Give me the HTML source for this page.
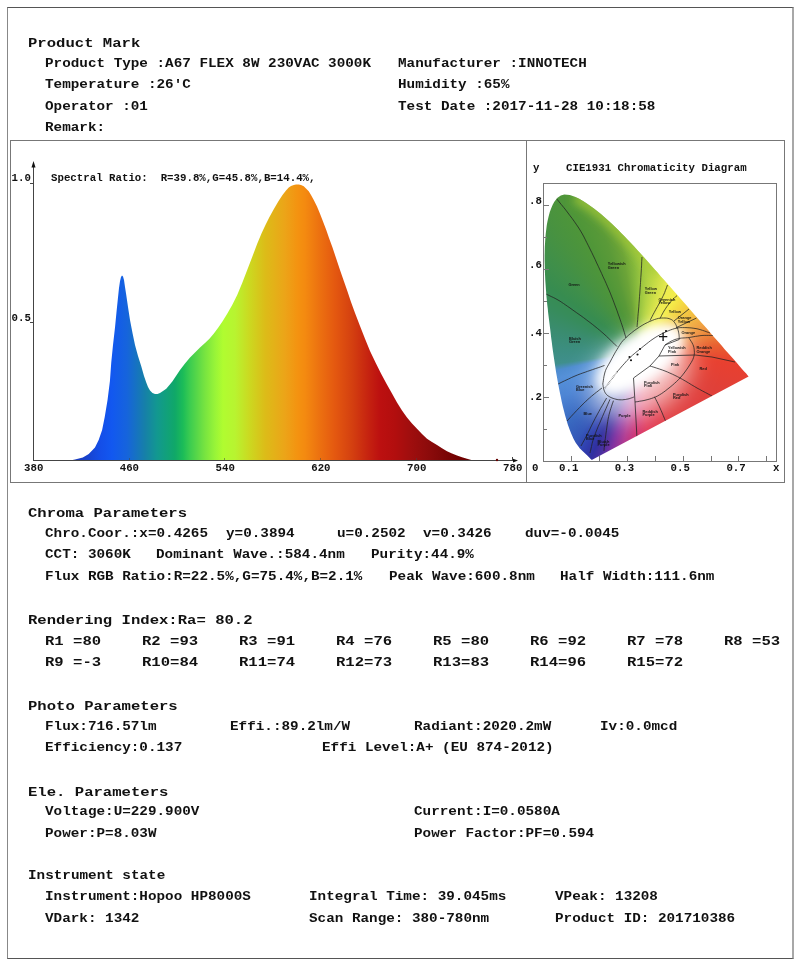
<!DOCTYPE html>
<html><head><meta charset="utf-8"><title>Spectral Test Report</title>
<style>
html,body{margin:0;padding:0;background:#fff;}
body{width:800px;height:966px;position:relative;overflow:hidden;font-family:"Liberation Mono",monospace;font-weight:bold;color:#111;}
.t{position:absolute;white-space:pre;line-height:1;margin:0;transform:scaleY(0.83);transform-origin:0 76.66%;}
.h{font-size:15.6px;}
.b{font-size:14.3px;}
.s{font-size:10.75px;transform:scaleY(0.93);}
#frame{position:absolute;left:7px;top:7px;width:787px;height:952px;box-sizing:border-box;border-style:solid;border-width:1px 2px 1px 1px;border-color:#555 #a8a8a8 #555 #888;}
#chart{position:absolute;left:10px;top:140px;width:775px;height:343px;box-sizing:border-box;border:1px solid #777;}
#divider{position:absolute;left:526px;top:140px;width:1px;height:343px;background:#777;}
svg{position:absolute;left:0;top:0;}
</style></head><body>
<div id="frame"></div>
<div id="chart"></div>
<div id="divider"></div>

<div class="t h" style="left:28.0px;top:35.7px">Product Mark</div>
<div class="t h" style="left:28.0px;top:505.7px">Chroma Parameters</div>
<div class="t h" style="left:28.0px;top:612.7px">Rendering Index:Ra= 80.2</div>
<div class="t h" style="left:28.0px;top:698.7px">Photo Parameters</div>
<div class="t h" style="left:28.0px;top:784.7px">Ele. Parameters</div>
<div class="t h" style="left:45.0px;top:633.7px">R1 =80</div>
<div class="t h" style="left:142.0px;top:633.7px">R2 =93</div>
<div class="t h" style="left:239.0px;top:633.7px">R3 =91</div>
<div class="t h" style="left:336.0px;top:633.7px">R4 =76</div>
<div class="t h" style="left:433.0px;top:633.7px">R5 =80</div>
<div class="t h" style="left:530.0px;top:633.7px">R6 =92</div>
<div class="t h" style="left:627.0px;top:633.7px">R7 =78</div>
<div class="t h" style="left:724.0px;top:633.7px">R8 =53</div>
<div class="t h" style="left:45.0px;top:655.2px">R9 =-3</div>
<div class="t h" style="left:142.0px;top:655.2px">R10=84</div>
<div class="t h" style="left:239.0px;top:655.2px">R11=74</div>
<div class="t h" style="left:336.0px;top:655.2px">R12=73</div>
<div class="t h" style="left:433.0px;top:655.2px">R13=83</div>
<div class="t h" style="left:530.0px;top:655.2px">R14=96</div>
<div class="t h" style="left:627.0px;top:655.2px">R15=72</div>
<div class="t b" style="left:45.0px;top:55.7px">Product Type :A67 FLEX 8W 230VAC 3000K</div>
<div class="t b" style="left:398.0px;top:55.7px">Manufacturer :INNOTECH</div>
<div class="t b" style="left:45.0px;top:77.2px">Temperature :26'C</div>
<div class="t b" style="left:398.0px;top:77.2px">Humidity :65%</div>
<div class="t b" style="left:45.0px;top:98.7px">Operator :01</div>
<div class="t b" style="left:398.0px;top:98.7px">Test Date :2017-11-28 10:18:58</div>
<div class="t b" style="left:45.0px;top:120.2px">Remark:</div>
<div class="t b" style="left:45.0px;top:525.7px">Chro.Coor.:x=0.4265</div>
<div class="t b" style="left:226.0px;top:525.7px">y=0.3894</div>
<div class="t b" style="left:337.0px;top:525.7px">u=0.2502</div>
<div class="t b" style="left:423.0px;top:525.7px">v=0.3426</div>
<div class="t b" style="left:525.0px;top:525.7px">duv=-0.0045</div>
<div class="t b" style="left:45.0px;top:547.2px">CCT: 3060K</div>
<div class="t b" style="left:156.0px;top:547.2px">Dominant Wave.:584.4nm</div>
<div class="t b" style="left:371.0px;top:547.2px">Purity:44.9%</div>
<div class="t b" style="left:45.0px;top:568.7px">Flux RGB Ratio:R=22.5%,G=75.4%,B=2.1%</div>
<div class="t b" style="left:389.0px;top:568.7px">Peak Wave:600.8nm</div>
<div class="t b" style="left:560.0px;top:568.7px">Half Width:111.6nm</div>
<div class="t b" style="left:45.0px;top:718.7px">Flux:716.57lm</div>
<div class="t b" style="left:230.0px;top:718.7px">Effi.:89.2lm/W</div>
<div class="t b" style="left:414.0px;top:718.7px">Radiant:2020.2mW</div>
<div class="t b" style="left:600.0px;top:718.7px">Iv:0.0mcd</div>
<div class="t b" style="left:45.0px;top:740.2px">Efficiency:0.137</div>
<div class="t b" style="left:322.0px;top:740.2px">Effi Level:A+ (EU 874-2012)</div>
<div class="t b" style="left:45.0px;top:804.2px">Voltage:U=229.900V</div>
<div class="t b" style="left:414.0px;top:804.2px">Current:I=0.0580A</div>
<div class="t b" style="left:45.0px;top:825.7px">Power:P=8.03W</div>
<div class="t b" style="left:414.0px;top:825.7px">Power Factor:PF=0.594</div>
<div class="t b" style="left:28.0px;top:868.2px">Instrument state</div>
<div class="t b" style="left:45.0px;top:889.2px">Instrument:Hopoo HP8000S</div>
<div class="t b" style="left:309.0px;top:889.2px">Integral Time: 39.045ms</div>
<div class="t b" style="left:555.0px;top:889.2px">VPeak: 13208</div>
<div class="t b" style="left:45.0px;top:910.7px">VDark: 1342</div>
<div class="t b" style="left:309.0px;top:910.7px">Scan Range: 380-780nm</div>
<div class="t b" style="left:555.0px;top:910.7px">Product ID: 201710386</div>
<div class="t s" style="left:51.0px;top:173.3px">Spectral Ratio:  R=39.8%,G=45.8%,B=14.4%,</div>
<div class="t s" style="left:11.5px;top:173.3px">1.0</div>
<div class="t s" style="left:11.5px;top:312.8px">0.5</div>
<div class="t s" style="left:24.0px;top:462.6px">380</div>
<div class="t s" style="left:119.7px;top:462.6px">460</div>
<div class="t s" style="left:215.5px;top:462.6px">540</div>
<div class="t s" style="left:311.2px;top:462.6px">620</div>
<div class="t s" style="left:407.0px;top:462.6px">700</div>
<div class="t s" style="left:503.0px;top:462.6px">780</div>
<div class="t s" style="left:533.0px;top:163.1px">y</div>
<div class="t s" style="left:566.0px;top:163.1px">CIE1931 Chromaticity Diagram</div>
<div class="t s" style="left:529.0px;top:196.1px">.8</div>
<div class="t s" style="left:529.0px;top:259.8px">.6</div>
<div class="t s" style="left:529.0px;top:327.8px">.4</div>
<div class="t s" style="left:529.0px;top:391.8px">.2</div>
<div class="t s" style="left:532.0px;top:462.6px">0</div>
<div class="t s" style="left:559.0px;top:462.6px">0.1</div>
<div class="t s" style="left:614.8px;top:462.6px">0.3</div>
<div class="t s" style="left:670.6px;top:462.6px">0.5</div>
<div class="t s" style="left:726.4px;top:462.6px">0.7</div>
<div class="t s" style="left:773.0px;top:462.6px">x</div>
<svg width="800" height="966" viewBox="0 0 800 966">
<defs><linearGradient id="sg" gradientUnits="userSpaceOnUse" x1="69" y1="0" x2="476" y2="0">
<stop offset="0.0000" stop-color="#1a38b8"/>
<stop offset="0.0393" stop-color="#1840c8"/>
<stop offset="0.0762" stop-color="#144ee8"/>
<stop offset="0.1057" stop-color="#1258f0"/>
<stop offset="0.1425" stop-color="#1664dc"/>
<stop offset="0.1867" stop-color="#1680a8"/>
<stop offset="0.2162" stop-color="#129890"/>
<stop offset="0.2604" stop-color="#10a868"/>
<stop offset="0.2801" stop-color="#1cbc58"/>
<stop offset="0.2973" stop-color="#3ccc50"/>
<stop offset="0.3342" stop-color="#78e440"/>
<stop offset="0.3587" stop-color="#98f438"/>
<stop offset="0.3784" stop-color="#b0fc30"/>
<stop offset="0.4079" stop-color="#b8f430"/>
<stop offset="0.4447" stop-color="#ccd820"/>
<stop offset="0.4816" stop-color="#dcbc18"/>
<stop offset="0.5307" stop-color="#eca418"/>
<stop offset="0.5627" stop-color="#f49210"/>
<stop offset="0.5799" stop-color="#f48a10"/>
<stop offset="0.6167" stop-color="#ec7010"/>
<stop offset="0.6536" stop-color="#e45810"/>
<stop offset="0.6953" stop-color="#d44010"/>
<stop offset="0.7396" stop-color="#c42010"/>
<stop offset="0.7641" stop-color="#bc1010"/>
<stop offset="0.8010" stop-color="#b20e0e"/>
<stop offset="0.8378" stop-color="#a00e0e"/>
<stop offset="0.8747" stop-color="#900c0c"/>
<stop offset="0.9115" stop-color="#800808"/>
<stop offset="0.9607" stop-color="#700000"/>
<stop offset="1.0049" stop-color="#680000"/>
</linearGradient></defs>
<path d="M69,461 L69,460.8 L75,459.5 L82.83,457.5 L88.73,454 L94.97,447.5 L98.67,440 L102.13,430 L104.73,417 L107.55,400 L109.93,381 L111.25,362.5 L113,345 L115,327.5 L116.5,312 L118,297.5 L119,288 L120,281.25 L121,277 L122,275.5 L123,276.5 L124,280 L125,287 L126.25,295 L128,307 L130,320 L132.5,333 L135,345 L138,356 L141.25,366.25 L144,376 L146.25,382.5 L148,387 L150,390.5 L152.5,393 L155,394 L157.5,394 L160,393 L163,391 L166.25,388.75 L169,385.5 L172.5,381.25 L176,376 L180,370 L185,363.5 L190,357.5 L195,352.5 L200,347.5 L205,343 L209.44,338.75 L213.88,333.5 L218.32,327.5 L222.76,321 L227.2,313.75 L232.2,305 L237.2,295 L242.2,283 L247.2,270 L252.2,257 L257.2,243.75 L261.48,233.5 L265.47,225 L269.46,217 L274.02,208.75 L278.58,201 L282.5,195 L286,190.5 L288.75,187.5 L291,186 L293.75,185 L296,184.5 L298.75,184.5 L301,185 L303.75,186.25 L306,188.5 L308.75,191.25 L311,195 L313.75,200 L317,206.5 L320,213.75 L323,221.5 L326.25,230 L329,238 L332.5,247.5 L336,258 L340,270 L344,281.5 L347.5,291.5 L351,302 L355,313 L360,326 L365,338.75 L370,351 L375.5,362.5 L381,373.5 L386.5,383.75 L392,393.5 L397,402.5 L402,410.5 L407,417.5 L412,423.5 L417,428.75 L422,434 L427,438.75 L432,442 L437,445 L442,448.25 L447,451.25 L452,453.5 L457,455.5 L462,457.25 L467,458.75 L471.33,460 L476.53,460.8 L476.53,461 Z" fill="url(#sg)"/>
<g stroke="#444" stroke-width="1" fill="none" shape-rendering="crispEdges">
<path d="M33.5,164 V461"/>
<path d="M33,460.5 H514"/>
<path d="M30,183.5 H34"/><path d="M30,322.5 H34"/>
<path d="M129.5,458 V461" stroke-opacity="0.5"/>
<path d="M224.5,458 V461" stroke-opacity="0.5"/>
<path d="M320.5,458 V461" stroke-opacity="0.5"/>
<path d="M416.5,458 V461" stroke-opacity="0.5"/>
<path d="M512.5,458 V461" stroke-opacity="0.5"/>
</g>
<path d="M33.5,161 L31.5,167.5 L35.5,167.5 Z" fill="#111"/>
<path d="M518,460.6 L513,458.8 L513,462.4 Z" fill="#111"/>
<path d="M512.5,457 V461" stroke="#444" stroke-width="1" shape-rendering="crispEdges"/>
<circle cx="497" cy="460" r="1.2" fill="#600"/>
</svg>
<div id="cie" style="position:absolute;left:540px;top:180px;width:240px;height:284px;clip-path:polygon(52.2px 279.7px,52.0px 279.8px,51.4px 279.7px,50.7px 279.1px,49.5px 277.8px,47.3px 275.6px,43.3px 271.8px,39.9px 268.5px,35.7px 262.8px,33.5px 258.7px,31.2px 253.5px,29.5px 249.3px,27.8px 244.5px,26.1px 238.8px,25.0px 235.1px,24.0px 231.0px,22.9px 226.7px,21.8px 222.1px,20.8px 217.1px,20.0px 213.3px,19.2px 209.3px,18.4px 205.1px,17.6px 200.8px,16.8px 196.3px,16.0px 191.7px,15.3px 186.9px,14.7px 183.1px,14.1px 179.1px,13.5px 175.0px,12.9px 170.8px,12.3px 166.6px,11.8px 162.3px,11.2px 157.9px,10.7px 153.6px,10.2px 149.2px,9.7px 145.3px,9.2px 141.3px,8.7px 137.3px,8.2px 133.2px,7.8px 129.1px,7.3px 125.0px,6.9px 120.9px,6.5px 116.9px,6.2px 112.9px,5.9px 109.0px,5.6px 104.7px,5.3px 100.4px,5.1px 96.1px,4.9px 91.9px,4.8px 87.7px,4.7px 83.6px,4.6px 79.5px,4.6px 75.6px,4.7px 71.8px,4.8px 67.0px,5.1px 62.2px,5.4px 57.6px,5.8px 53.2px,6.3px 49.0px,6.8px 45.0px,7.5px 41.2px,8.6px 36.4px,9.8px 31.9px,11.3px 27.9px,12.8px 24.4px,14.5px 21.5px,17.5px 17.8px,20.8px 15.6px,24.3px 14.5px,29.8px 14.9px,35.5px 16.9px,39.2px 18.7px,43.0px 21.0px,46.8px 23.4px,50.4px 25.9px,53.9px 28.5px,57.4px 31.2px,60.9px 34.0px,64.3px 36.9px,67.7px 39.9px,71.0px 43.0px,74.4px 46.2px,77.8px 49.5px,81.1px 52.9px,84.4px 56.3px,87.7px 59.8px,91.1px 63.3px,94.4px 66.8px,97.7px 70.5px,101.0px 74.1px,104.4px 77.8px,107.7px 81.5px,111.0px 85.2px,114.3px 88.9px,117.6px 92.6px,120.9px 96.4px,124.2px 100.1px,127.5px 103.8px,130.8px 107.5px,134.0px 111.2px,137.2px 114.8px,140.4px 118.5px,143.5px 122.0px,146.6px 125.6px,149.6px 129.1px,152.6px 132.5px,155.6px 135.9px,158.5px 139.2px,161.3px 142.4px,164.1px 145.6px,168.1px 150.1px,171.8px 154.4px,175.3px 158.4px,178.5px 162.1px,181.6px 165.6px,184.4px 168.9px,189.4px 174.4px,193.0px 178.6px,196.5px 182.6px,201.1px 187.9px,204.2px 191.4px,206.2px 193.6px,207.3px 194.9px,208.6px 196.4px);background:conic-gradient(from 0deg at 100.0px 172.0px, #98c440 0deg, #b4d444 7deg, #d0e048 15deg, #ecec50 24deg, #f4ec48 33deg, #f4d040 45deg, #f2b840 57deg, #f0a040 67deg, #ec8038 77deg, #e86030 85deg, #e84030 97deg, #e04038 115deg, #e04040 135deg, #e04040 150deg, #e03848 165deg, #e03858 175deg, #d03070 183deg, #b03890 190deg, #8030a0 196deg, #4a30a0 201deg, #3030a0 205deg, #3040b0 210deg, #3458b8 216deg, #3868c0 225deg, #4c84d4 240deg, #5490d8 252deg, #4e8cd0 257.5deg, #3f8f8c 262deg, #3c8e80 272deg, #3a8c70 284deg, #378c5c 296deg, #378c50 306deg, #3f8f4a 315deg, #489240 325deg, #4f9638 335deg, #5a9a38 343deg, #6ca438 350deg, #84b83c 356deg, #98c440 360deg);overflow:hidden;">
<svg width="240" height="284" viewBox="540 180 240 284" style="position:absolute;left:0;top:0">
<defs><filter id="bl" x="-30%" y="-30%" width="160%" height="160%"><feGaussianBlur stdDeviation="4"/></filter>
<filter id="bw" x="-40%" y="-40%" width="180%" height="180%"><feGaussianBlur stdDeviation="5.5"/></filter>
<filter id="bw2" x="-60%" y="-60%" width="220%" height="220%"><feGaussianBlur stdDeviation="12"/></filter></defs>
<path d="M575.5,196.9 L586.8,203.4 L597.4,211.2 L607.7,219.9 L617.8,229.5 L627.7,239.8 L637.7,250.5 L647.7,261.5 L657.6,272.6" fill="none" stroke="#a8cc38" stroke-width="12" stroke-opacity="0.7" filter="url(#bl)"/>
<ellipse cx="640" cy="375" rx="57" ry="37" transform="rotate(-35 640 375)" fill="#fff" fill-opacity="0.68" filter="url(#bw2)"/>
<ellipse cx="640" cy="359" rx="50" ry="24.5" transform="rotate(-35 640 359)" fill="#fff" filter="url(#bw)"/>
<g fill="none" stroke="#222" stroke-opacity="0.85" stroke-width="0.9">
<path d="M602.8,384.0 L603.0,382.7 L603.3,380.8 L603.6,378.6 L604.0,376.2 L604.5,374.0 L605.0,372.0 L605.6,370.4 L606.2,368.9 L606.9,367.6 L607.7,366.2 L608.5,364.7 L609.5,363.0 L610.6,361.0 L611.8,358.7 L613.1,356.3 L614.4,353.9 L615.7,351.6 L617.0,349.5 L618.2,347.6 L619.2,345.8 L620.3,344.2 L621.4,342.5 L622.8,340.8 L624.5,339.0 L626.6,337.0 L628.9,334.9 L631.5,332.8 L634.2,330.7 L636.9,328.8 L639.5,327.0 L642.1,325.4 L644.7,323.9 L647.3,322.6 L649.8,321.4 L652.3,320.4 L654.5,319.5 L656.5,318.9 L658.4,318.4 L660.2,318.1 L661.9,318.0 L663.5,318.0 L665.0,318.0 L666.5,318.1 L667.8,318.3 L669.1,318.6 L670.3,319.1 L671.5,319.6 L672.5,320.3 L673.5,321.2 L674.3,322.2 L675.1,323.3 L675.8,324.5 L676.4,325.8 L677.0,327.0 L677.5,328.2 L677.9,329.5 L678.3,330.9 L678.6,332.2 L678.8,333.4 L679.0,334.5 L679.1,335.5 L679.2,336.5 L679.2,337.5 L679.2,338.3 L679.2,339.0 L679.2,339.5"/>
<path d="M602.8,384.0 L602.9,384.7 L603.1,385.6 L603.2,386.7 L603.5,387.9 L603.7,389.0 L604.0,390.0 L604.3,390.8 L604.6,391.6 L605.0,392.4 L605.4,393.1 L605.9,393.8 L606.5,394.5 L607.2,395.2 L608.0,395.8 L608.9,396.4 L609.9,397.0 L610.9,397.5 L612.0,398.0 L613.2,398.4 L614.5,398.8 L615.8,399.2 L617.2,399.5 L618.6,399.7 L620.0,399.8 L621.4,399.8 L622.7,399.8 L624.1,399.6 L625.5,399.5 L626.8,399.2 L628.0,399.0 L629.2,398.7 L630.4,398.3 L631.5,397.9 L632.5,397.6 L633.4,397.2 L634.0,397.0"/>
<path d="M679.2,339.5 L665.0,345.0 L659.0,356.0 L650.0,366.0 L633.5,378.0 L635.0,402.0 L637.0,438.0"/>
<path d="M635.0,402.0 L636.2,401.8 L637.8,401.6 L639.8,401.2 L641.9,400.9 L644.0,400.5 L646.0,400.0 L647.9,399.5 L649.8,399.0 L651.7,398.4 L653.6,397.7 L655.6,396.9 L657.5,396.0 L659.4,394.9 L661.4,393.7 L663.3,392.4 L665.2,391.0 L667.1,389.5 L669.0,388.0 L670.9,386.5 L672.8,384.9 L674.7,383.2 L676.5,381.6 L678.3,379.8 L680.0,378.0 L681.7,376.1 L683.3,374.1 L684.9,372.0 L686.4,369.9 L687.8,367.9 L689.0,366.0 L690.1,364.2 L691.2,362.5 L692.1,360.9 L692.9,359.3 L693.5,357.6 L694.0,356.0 L694.3,354.3 L694.4,352.6 L694.3,350.9 L694.2,349.2 L693.9,347.6 L693.5,346.0 L692.9,344.5 L692.1,342.9 L691.2,341.4 L690.3,340.0 L689.5,338.8 L689.0,338.0"/>
<path d="M659.0,356.0 L695.0,355.0 L712.0,357.0 L735.0,362.0"/>
<path d="M650.0,366.0 L651.6,366.5 L653.9,367.2 L656.6,368.1 L659.4,369.0 L662.3,370.0 L665.0,371.0 L667.5,372.0 L669.9,373.1 L672.4,374.2 L674.9,375.4 L677.4,376.6 L680.0,378.0 L682.7,379.5 L685.6,381.2 L688.5,382.9 L691.4,384.7 L694.3,386.4 L697.0,388.0 L699.8,389.5 L702.7,391.1 L705.6,392.6 L708.2,394.0 L710.4,395.2 L712.0,396.0"/>
<path d="M654.5,396.8 L655.1,398.0 L655.9,399.6 L656.9,401.5 L657.9,403.6 L659.0,405.8 L660.0,408.0 L661.0,410.3 L662.2,413.0 L663.3,415.7 L664.4,418.3 L665.3,420.4 L666.0,422.0"/>
<path d="M665.0,345.0 L665.8,344.5 L666.9,343.7 L668.3,342.9 L669.7,342.0 L671.2,341.2 L672.5,340.5 L673.7,340.0 L674.9,339.5 L676.2,339.2 L677.4,338.8 L678.7,338.6 L680.0,338.3 L681.4,338.1 L682.7,338.0 L684.2,337.9 L685.6,337.8 L687.3,337.7 L689.0,337.5 L691.0,337.2 L693.1,336.8 L695.4,336.4 L697.7,336.1 L699.9,335.7 L702.0,335.5 L704.1,335.4 L706.2,335.4 L708.3,335.4 L710.2,335.4 L711.8,335.5 L713.0,335.5"/>
<path d="M617.0,372.0 L618.3,370.5 L620.2,368.3 L622.3,365.8 L624.7,363.2 L626.9,360.6 L629.0,358.5 L630.8,356.8 L632.5,355.2 L634.2,353.8 L635.8,352.4 L637.6,351.0 L639.5,349.5 L641.6,347.8 L643.8,346.0 L646.2,344.1 L648.5,342.3 L650.8,340.5 L653.0,339.0 L655.1,337.6 L657.1,336.4 L659.2,335.2 L661.1,334.2 L663.1,333.2 L665.0,332.3 L666.9,331.4 L668.8,330.6 L670.6,329.9 L672.4,329.3 L674.2,328.7 L676.0,328.3 L677.7,328.0 L679.3,327.7 L680.9,327.6 L682.6,327.6 L684.2,327.6 L686.0,327.6 L687.9,327.7 L689.9,327.8 L691.9,328.0 L693.9,328.3 L696.0,328.6 L698.0,329.0 L700.1,329.6 L702.4,330.3 L704.8,331.1 L706.9,331.9 L708.7,332.5 L710.0,333.0"/>
<path d="M556.0,198.0 L557.3,199.6 L559.1,201.8 L561.2,204.4 L563.6,207.3 L565.9,210.2 L568.0,213.0 L570.0,215.7 L572.1,218.4 L574.1,221.2 L576.1,224.1 L578.1,227.0 L580.0,230.0 L581.8,233.0 L583.5,236.1 L585.1,239.2 L586.7,242.4 L588.4,245.7 L590.0,249.0 L591.7,252.4 L593.4,255.9 L595.1,259.4 L596.7,263.0 L598.4,266.5 L600.0,270.0 L601.6,273.4 L603.1,276.8 L604.7,280.2 L606.2,283.5 L607.6,286.8 L609.0,290.0 L610.3,293.1 L611.5,296.2 L612.7,299.2 L613.8,302.1 L614.9,305.1 L616.0,308.0 L617.1,310.9 L618.1,313.9 L619.2,316.8 L620.2,319.7 L621.1,322.4 L622.0,325.0 L622.8,327.5 L623.6,330.1 L624.4,332.6 L625.0,334.8 L625.6,336.6 L626.0,338.0"/>
<path d="M546.0,294.0 L547.3,294.6 L549.1,295.5 L551.2,296.5 L553.6,297.6 L555.9,298.8 L558.0,300.0 L559.9,301.1 L561.7,302.3 L563.5,303.5 L565.4,304.8 L567.5,306.3 L570.0,308.0 L572.9,310.1 L576.3,312.5 L579.9,315.0 L583.5,317.6 L586.9,320.2 L590.0,322.5 L592.7,324.6 L595.1,326.5 L597.4,328.4 L599.6,330.2 L601.8,332.1 L604.0,334.0 L606.4,336.2 L608.9,338.6 L611.4,341.0 L613.7,343.2 L615.6,345.1 L617.0,346.5"/>
<path d="M642.0,257.0 L641.9,259.0 L641.7,261.8 L641.6,265.1 L641.4,268.6 L641.2,272.0 L641.0,275.0 L640.8,277.6 L640.7,280.0 L640.5,282.4 L640.4,284.7 L640.2,287.2 L640.0,290.0 L639.8,293.1 L639.5,296.4 L639.3,299.9 L639.0,303.4 L638.8,306.8 L638.5,310.0 L638.2,313.2 L637.9,316.5 L637.7,319.8 L637.4,322.7 L637.2,325.2 L637.0,327.0"/>
<path d="M667.5,285.0 L667.1,286.0 L666.6,287.4 L666.0,289.0 L665.3,290.7 L664.7,292.5 L664.0,294.0 L663.4,295.4 L662.7,296.7 L662.1,298.0 L661.4,299.3 L660.7,300.6 L660.0,302.0 L659.2,303.4 L658.4,304.9 L657.6,306.4 L656.7,307.9 L655.8,309.5 L655.0,311.0 L654.1,312.7 L653.1,314.5 L652.2,316.3 L651.3,318.0 L650.5,319.5 L650.0,320.5"/>
<path d="M677.0,295.5 L676.2,296.2 L675.1,297.3 L673.9,298.5 L672.5,299.8 L671.2,301.2 L670.0,302.5 L668.9,303.8 L667.9,305.3 L666.8,306.7 L665.8,308.2 L664.9,309.6 L664.0,311.0 L663.2,312.4 L662.4,313.9 L661.6,315.3 L661.0,316.6 L660.4,317.7 L660.0,318.5"/>
<path d="M689.0,309.0 L674.0,321.0"/>
<path d="M696.5,318.0 L676.0,327.8"/>
<path d="M556.0,385.0 L558.1,384.0 L561.1,382.5 L564.6,380.8 L568.3,379.1 L571.8,377.4 L575.0,376.0 L577.7,374.9 L580.3,373.9 L582.8,373.0 L585.2,372.2 L587.6,371.3 L590.0,370.5 L592.6,369.6 L595.4,368.6 L598.2,367.7 L600.8,366.8 L602.9,366.0 L604.5,365.5"/>
<path d="M567.0,421.0 L568.7,419.2 L571.0,416.6 L573.8,413.6 L576.7,410.5 L579.6,407.5 L582.0,405.0 L584.1,403.0 L586.0,401.1 L587.9,399.4 L589.6,397.9 L591.3,396.4 L593.0,395.0 L594.7,393.6 L596.5,392.2 L598.2,390.9 L599.7,389.7 L601.0,388.7 L602.0,388.0"/>
<path d="M581.0,446.0 L581.5,445.0 L582.2,443.8 L583.0,442.3 L584.0,440.5 L585.1,438.4 L586.4,436.0 L587.9,433.1 L589.6,429.7 L591.4,425.9 L593.3,422.1 L595.2,418.4 L597.0,415.0 L598.8,411.7 L600.6,408.4 L602.5,405.2 L604.1,402.3 L605.6,399.8 L606.6,398.0"/>
<path d="M590.0,453.0 L590.4,451.4 L590.9,449.1 L591.5,446.5 L592.1,443.5 L592.9,440.6 L593.8,437.7 L594.8,434.9 L595.9,432.1 L597.1,429.2 L598.3,426.2 L599.7,423.2 L601.0,420.0 L602.5,416.5 L604.2,412.6 L606.0,408.5 L607.6,404.8 L609.0,401.6 L610.0,399.3"/>
<path d="M604.0,451.0 L604.0,450.4 L604.1,449.8 L604.1,449.0 L604.2,447.9 L604.4,446.4 L604.6,444.4 L604.9,441.7 L605.4,438.3 L605.8,434.5 L606.4,430.6 L606.9,427.0 L607.3,424.0 L607.7,421.6 L608.0,419.7 L608.3,418.0 L608.7,416.4 L609.0,414.8 L609.5,413.0 L610.1,410.9 L610.8,408.5 L611.6,406.2 L612.3,403.9 L613.0,402.1 L613.4,400.7"/>
</g>
<path d="M605,388 L617,372" stroke="#333" stroke-width="1.6" stroke-dasharray="0.5 1" stroke-opacity="0.8" fill="none"/>
<circle cx="629.5" cy="357" r="1.05" fill="#111"/>
<circle cx="631" cy="360.3" r="1.05" fill="#111"/>
<circle cx="637.5" cy="354.5" r="1.05" fill="#111"/>
<circle cx="640" cy="349" r="1.05" fill="#111"/>
<circle cx="666" cy="331" r="1.05" fill="#111"/>
<g font-family="'Liberation Sans',sans-serif" font-weight="bold" font-size="3.9" fill="#111" fill-opacity="0.95">
<text x="668.8" y="312.7">Yellow</text>
<text x="677.8" y="319.2">Orange</text>
<text x="677.8" y="322.6">Yellow</text>
<text x="681.5" y="334.4">Orange</text>
<text x="668" y="349.2">Yellowish</text>
<text x="668" y="352.6">Pink</text>
<text x="696.5" y="349.2">Reddish</text>
<text x="696.5" y="352.6">Orange</text>
<text x="671" y="366">Pink</text>
<text x="699.5" y="370.4">Red</text>
<text x="644" y="383.8">Purplish</text>
<text x="644" y="387.2">Pink</text>
<text x="673" y="395.5">Purplish</text>
<text x="673" y="398.9">Red</text>
<text x="642.5" y="412.7">Reddish</text>
<text x="642.5" y="416.1">Purple</text>
<text x="618.5" y="417">Purple</text>
<text x="569" y="339.8">Bluish</text>
<text x="569" y="343.2">Green</text>
<text x="576" y="388">Greenish</text>
<text x="576" y="391.4">Blue</text>
<text x="583.5" y="414.6">Blue</text>
<text x="586" y="436.6">Purplish</text>
<text x="586" y="440">Blue</text>
<text x="597.5" y="443">Bluish</text>
<text x="597.5" y="446.4">Purple</text>
<text x="607.8" y="265.3">Yellowish</text>
<text x="607.8" y="268.7">Green</text>
<text x="568.4" y="286">Green</text>
<text x="644.8" y="290.3">Yellow</text>
<text x="644.8" y="293.7">Green</text>
<text x="658.4" y="300.6">Greenish</text>
<text x="658.4" y="304">Yellow</text>
</g>
</svg>
</div>
<svg width="800" height="966" viewBox="0 0 800 966">
<g stroke="#777" stroke-width="1" fill="none" shape-rendering="crispEdges">
<rect x="543.5" y="183.5" width="233" height="278"/>
<path d="M544.0,429.5 h3"/>
<path d="M544.0,397.5 h5"/>
<path d="M544.0,365.5 h3"/>
<path d="M544.0,333.5 h5"/>
<path d="M544.0,301.5 h3"/>
<path d="M544.0,269.5 h5"/>
<path d="M544.0,237.5 h3"/>
<path d="M544.0,205.5 h5"/>
<path d="M571.5,461.5 v-6"/>
<path d="M599.5,461.5 v-6"/>
<path d="M627.5,461.5 v-6"/>
<path d="M655.5,461.5 v-6"/>
<path d="M683.5,461.5 v-6"/>
<path d="M711.5,461.5 v-6"/>
<path d="M738.5,461.5 v-6"/>
<path d="M766.5,461.5 v-6"/>
</g>
<path d="M659,336.7 H667.3 M663.1,332.5 V341" stroke="#111" stroke-width="1.3" fill="none"/>
</svg>
</body></html>
